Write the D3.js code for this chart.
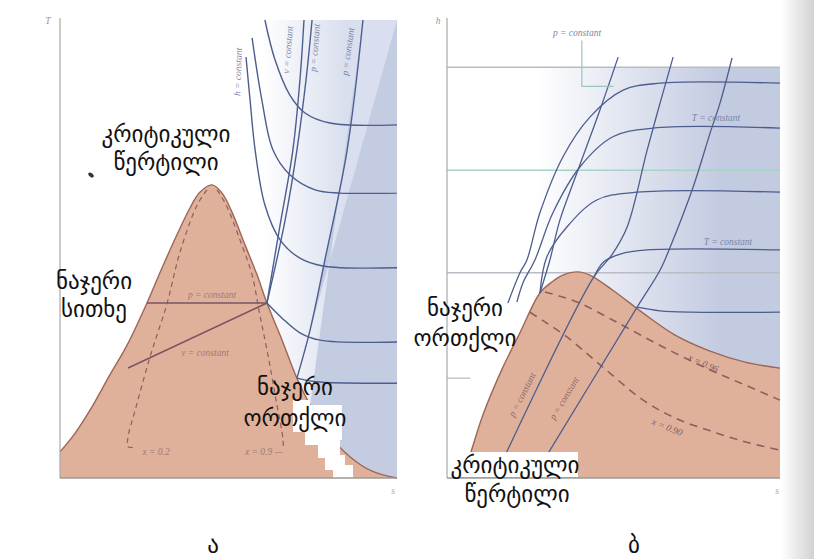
<!DOCTYPE html>
<html>
<head>
<meta charset="utf-8">
<script src="https://cdn.jsdelivr.net/npm/d3@7"></script>
<style>
body { margin: 0; background: #fff; }
svg { display: block; }
.geo { font-family: "DejaVu Sans", sans-serif; font-size: 23px; fill: #111; }
.small { font-family: "Liberation Serif", serif; font-style: italic; font-size: 9.5px; }
</style>
</head>
<body>
<div id="chart"></div>
<script>
// ---- panel a (T-s), values on a 0..100 scale of each axis ----
var satLiqA = [[0,5.7],[4.5,9.8],[8.9,14.8],[14.8,22.5],[19.9,29.0],[25.8,38.2],[30.3,45.9],[34.7,53.1],[38.6,59.0],[41.5,62.4],[45.1,64.0]];
var satVapA = [[45.1,64.0],[48.1,62.2],[51.0,58.1],[54.9,50.9],[58.5,44.3],[61.4,38.2],[65.9,30.1],[70.3,21.8],[74.2,15.9],[78.6,10.5],[86.1,4.6],[92.6,1.5],[100,0]];
var qual02A = [[43.6,62.9],[40.7,59.6],[35.6,49.3],[31.8,38.2],[26.7,26.4],[22.3,14.8],[20.2,9.0],[20.2,6.8],[22.5,6.8]];
var qual09A = [[46.6,62.9],[49.3,59.6],[53.4,52.0],[57.0,44.3],[59.3,35.6],[61.7,26.9],[64.1,17.0],[66.2,8.3],[66.2,6.3]];
var pDomeA = [[25.8,38.2],[61.4,38.2]];
var vDomeA = [[20.2,24.0],[61.4,38.2]];
var vLineA = [[61.4,38.2],[65.3,55.2],[69.1,71.6],[71.2,86.9],[72.4,100]];
var pLine1A = [[61.4,38.2],[66.8,56.3],[70.3,71.6],[73.0,86.9],[74.8,100]];
var pLine2A = [[70.3,21.8],[74.2,32.3],[78.6,47.6],[85.2,71.6],[89.9,100]];
var hCurvesA = [
  [[60.8,100],[63.8,91.3],[68.2,83.6],[72.7,79.7],[80.1,77.5],[100,77.1]],
  [[57.0,96.1],[59.9,82.5],[63.2,71.6],[68.2,66.2],[75.7,62.9],[83.1,62.2],[100,62.2]],
  [[55.2,91.9],[56.4,82.5],[57.9,71.6],[60.8,59.6],[65.3,52.0],[71.2,48.0],[78.0,46.3],[100,45.9]],
  [[61.4,38.2],[65.9,34.9],[71.2,31.7],[77.2,30.1],[100,29.7]],
  [[70.3,21.8],[76,21.0],[100,20.7]]
];

// ---- panel b (h-s) ----
var domeB = [[4.5,0],[6.9,5.0],[10.8,13.8],[16.8,24.2],[21.9,31.7],[27.9,40.4],[31.5,42.8],[34.8,44.3],[39.3,45.0],[42.9,44.3],[49.8,41.0],[58.9,36.0],[68.5,31.2],[79.0,27.7],[89.5,25.3],[100,24.0]];
var qual096B = [[29.4,40.6],[33.9,39.7],[39.9,38.2],[47.4,35.4],[54.1,32.8],[64.9,28.6],[79.0,23.6],[89.5,20.3],[100,17.0]];
var qual090B = [[24.9,36.2],[29.4,34.1],[36.0,30.8],[46.8,24.2],[58.9,17.0],[68.5,13.1],[79.0,10.3],[89.5,7.9],[100,6.1]];
var pLinesB = [
  [[51.4,91.9],[45.9,80.3],[39.0,66.6],[33.9,56.3],[30.9,47.6],[27.9,40.4]],
  [[67.9,91.9],[64.0,81.9],[60.1,71.6],[54.1,54.8],[49.5,48.7],[44.1,43.9],[16.8,3.9]],
  [[85.6,91.7],[82.0,81.9],[79.0,75.3],[73.9,63.5],[67.0,50.4],[64.0,45.4],[57.1,37.3],[28.2,2.8]]
];
var tCurvesB = [
  [[18.3,38.2],[21.9,44.8],[24.0,47.6],[27.9,57.9],[34.8,70.1],[42.9,78.8],[52.9,84.7],[64.0,86.2],[100,86.2]],
  [[21.0,38.4],[22.8,42.6],[26.4,47.6],[31.8,57.9],[39.9,67.9],[49.8,74.5],[61.9,76.4],[100,76.4]],
  [[27.9,40.4],[30.0,48.3],[36.0,54.8],[45.0,60.7],[57.1,62.4],[100,62.4]],
  [[44.1,43.9],[47.1,47.2],[52.0,48.9],[60.1,49.8],[100,49.8]],
  [[57.1,37.3],[64.0,36.5],[73.0,36.2],[100,36.2]]
];
var bleedLinesB = [89.7, 67.2, 44.8];

var width = 814, height = 559;
var svg = d3.select("#chart").append("svg")
    .attr("width", width)
    .attr("height", height);

var A = {x: d3.scaleLinear().domain([0,100]).range([60,397]),
         y: d3.scaleLinear().domain([0,100]).range([478,20])};
var B = {x: d3.scaleLinear().domain([0,100]).range([447,780]),
         y: d3.scaleLinear().domain([0,100]).range([478,20])};

function lineFor(p) {
    return d3.line()
        .x(function(d) { return p.x(d[0]); })
        .y(function(d) { return p.y(d[1]); })
        .curve(d3.curveCatmullRom.alpha(0.5));
}
var lineA = lineFor(A), lineB = lineFor(B);

// gradients for the superheated region
var defs = svg.append("defs");
function grad(id, x1, x2, c) {
    var g = defs.append("linearGradient").attr("id", id)
        .attr("gradientUnits", "userSpaceOnUse")
        .attr("x1", x1).attr("x2", x2).attr("y1", 0).attr("y2", 0);
    g.append("stop").attr("offset", 0).attr("stop-color", "#fff");
    g.append("stop").attr("offset", 1).attr("stop-color", c);
}
grad("blueA", 262, 345, "#d9dfee");
grad("blueB", 535, 720, "#c3cbe1");
grad("page", 781, 814, "#d2d2d2");

// page shadow on the right
svg.append("rect").attr("x", 781).attr("y", 0).attr("width", 33).attr("height", height)
    .attr("fill", "url(#page)");

// ================= panel a =================
var ga = svg.append("g");
ga.append("rect")
    .attr("x", A.x(45)).attr("y", A.y(100))
    .attr("width", A.x(100) - A.x(45)).attr("height", A.y(0) - A.y(100))
    .attr("fill", "url(#blueA)");
// darker band right of the second p line
var darkA = pLine2A.slice().reverse().concat([[100,100],[100,0]]).concat(satVapA.filter(function(d){ return d[0] > 70.3; }).reverse());
ga.append("path")
    .attr("d", d3.line().x(function(d){ return A.x(d[0]); }).y(function(d){ return A.y(d[1]); })(darkA) + "Z")
    .attr("fill", "#c4cce2");

// dome
var domeA = satLiqA.concat(satVapA.slice(1));
ga.append("path")
    .attr("d", lineA(domeA) + "L" + A.x(0) + "," + A.y(0) + "Z")
    .attr("fill", "#e0b19a");
ga.append("path").attr("d", lineA(domeA))
    .attr("fill", "none").attr("stroke", "#9c6656").attr("stroke-width", 1.4);

// white scan patch behind the label
ga.append("path")
    .attr("d", "M293,400H310V405H342V440H340V455H345V465H353V478H333V470H325V458H318V445H305V432H293Z")
    .attr("fill", "#fff");

[qual02A, qual09A].forEach(function(q) {
    ga.append("path").attr("d", lineA(q))
        .attr("fill", "none").attr("stroke", "#8e5e5c").attr("stroke-width", 1.2)
        .attr("stroke-dasharray", "5,4");
});
[pDomeA, vDomeA].forEach(function(q) {
    ga.append("path").attr("d", d3.line().x(function(d){ return A.x(d[0]); }).y(function(d){ return A.y(d[1]); })(q))
        .attr("fill", "none").attr("stroke", "#7a5464").attr("stroke-width", 1.6);
});
hCurvesA.concat([vLineA, pLine1A, pLine2A]).forEach(function(c) {
    ga.append("path").attr("d", lineA(c))
        .attr("fill", "none").attr("stroke", "#4d5d8e").attr("stroke-width", 1.4);
});

// axes
ga.append("line").attr("x1", A.x(0)).attr("x2", A.x(0)).attr("y1", 18).attr("y2", A.y(0))
    .attr("stroke", "#a8a8a8").attr("stroke-width", 1.2);
ga.append("line").attr("x1", A.x(0)).attr("x2", A.x(100)).attr("y1", A.y(0)).attr("y2", A.y(0))
    .attr("stroke", "#9a9a9a").attr("stroke-width", 1.4);

function small(g, x, y, txt, rot, col) {
    g.append("text").attr("class", "small")
        .attr("transform", "translate(" + x + "," + y + ") rotate(" + (rot || 0) + ")")
        .attr("text-anchor", "middle").attr("fill", col || "#7b86a8")
        .text(txt);
}
small(ga, 48, 24, "T", 0, "#999");
small(ga, 393, 494, "s", 0, "#aaa");
small(ga, 241, 72, "h = constant", -88);
small(ga, 291, 50, "v = constant", -85);
small(ga, 318, 48, "p = constant", -85);
small(ga, 351, 52, "p = constant", -82);
small(ga, 212, 298, "p = constant", 0, "#9c7a78");
small(ga, 205, 356, "v = constant", 0, "#9c7a78");
small(ga, 156, 455, "x = 0.2", 0, "#9c7a78");
small(ga, 264, 455, "x = 0.9 —", 0, "#9c7a78");

// scan speck
ga.append("ellipse").attr("cx", 91).attr("cy", 175).attr("rx", 3.2).attr("ry", 1.8)
    .attr("transform", "rotate(40,91,175)").attr("fill", "#333");

// ================= panel b =================
var gb = svg.append("g");
gb.append("rect")
    .attr("x", B.x(0)).attr("y", B.y(89.7))
    .attr("width", B.x(100) - B.x(0)).attr("height", B.y(0) - B.y(89.7))
    .attr("fill", "url(#blueB)");

bleedLinesB.forEach(function(v, i) {
    gb.append("line").attr("x1", B.x(0)).attr("x2", B.x(100))
        .attr("y1", B.y(v)).attr("y2", B.y(v))
        .attr("stroke", i == 1 ? "#a9d2c6" : "#b9bcc4").attr("stroke-width", 1.5);
});
gb.append("line").attr("x1", B.x(0)).attr("x2", B.x(7)).attr("y1", B.y(21.8)).attr("y2", B.y(21.8))
    .attr("stroke", "#c8c8c8").attr("stroke-width", 1.5);

gb.append("path")
    .attr("d", lineB(domeB) + "L" + B.x(100) + "," + B.y(0) + "Z")
    .attr("fill", "#e0b19a");
gb.append("path").attr("d", lineB(domeB))
    .attr("fill", "none").attr("stroke", "#9c6656").attr("stroke-width", 1.4);

[qual096B, qual090B].forEach(function(q) {
    gb.append("path").attr("d", lineB(q))
        .attr("fill", "none").attr("stroke", "#8e5e5e").attr("stroke-width", 1.6)
        .attr("stroke-dasharray", "8,6");
});
pLinesB.concat(tCurvesB).forEach(function(c) {
    gb.append("path").attr("d", lineB(c))
        .attr("fill", "none").attr("stroke", "#4d5d8e").attr("stroke-width", 1.3);
});

// leader for the top label
gb.append("path").attr("d", "M" + B.x(40.5) + "," + B.y(95.5) + "V" + B.y(85.5) + "H" + B.x(50))
    .attr("fill", "none").attr("stroke", "#9cc6bb").attr("stroke-width", 1.2);

gb.append("line").attr("x1", B.x(0)).attr("x2", B.x(0)).attr("y1", 18).attr("y2", B.y(0))
    .attr("stroke", "#a8a8a8").attr("stroke-width", 1.2);
gb.append("line").attr("x1", B.x(0)).attr("x2", B.x(100)).attr("y1", B.y(0)).attr("y2", B.y(0))
    .attr("stroke", "#9a9a9a").attr("stroke-width", 1.4);

small(gb, 438, 24, "h", 0, "#999");
small(gb, 777, 494, "s", 0, "#aaa");
small(gb, 577, 36, "p = constant", 0, "#7b86a8");
small(gb, 716, 121, "T = constant", 0, "#7b86a8");
small(gb, 728, 245, "T = constant", 0, "#7b86a8");
small(gb, 525, 396, "p = constant", -63, "#8c6a6a");
small(gb, 567, 400, "p = constant", -59, "#8c6a6a");
small(gb, 702, 366, "x = 0.96", 24, "#7e5a5a");
small(gb, 666, 430, "x = 0.90", 22, "#7e5a5a");

// white patch behind the bottom label
gb.append("rect").attr("x", 452).attr("y", 452).attr("width", 126).attr("height", 25)
    .attr("fill", "#fff");

// ================= Georgian labels =================
var labels = [
    {t: "კრიტიკული", x: 166, y: 142, a: "middle"},
    {t: "წერტილი", x: 166, y: 170, a: "middle"},
    {t: "ნაჯერი", x: 56, y: 289, a: "start"},
    {t: "სითხე", x: 61, y: 317, a: "start"},
    {t: "ნაჯერი", x: 295, y: 395, a: "middle"},
    {t: "ორთქლი", x: 295, y: 426, a: "middle"},
    {t: "ნაჯერი", x: 465, y: 316, a: "middle"},
    {t: "ორთქლი", x: 465, y: 346, a: "middle"},
    {t: "კრიტიკული", x: 515, y: 473, a: "middle"},
    {t: "წერტილი", x: 517, y: 502, a: "middle"},
    {t: "ა", x: 213, y: 553, a: "middle"},
    {t: "ბ", x: 634, y: 553, a: "middle"}
];
svg.selectAll("text.geo").data(labels).enter().append("text")
    .attr("class", "geo")
    .attr("x", function(d) { return d.x; })
    .attr("y", function(d) { return d.y; })
    .attr("text-anchor", function(d) { return d.a; })
    .text(function(d) { return d.t; });
</script>
</body>
</html>
